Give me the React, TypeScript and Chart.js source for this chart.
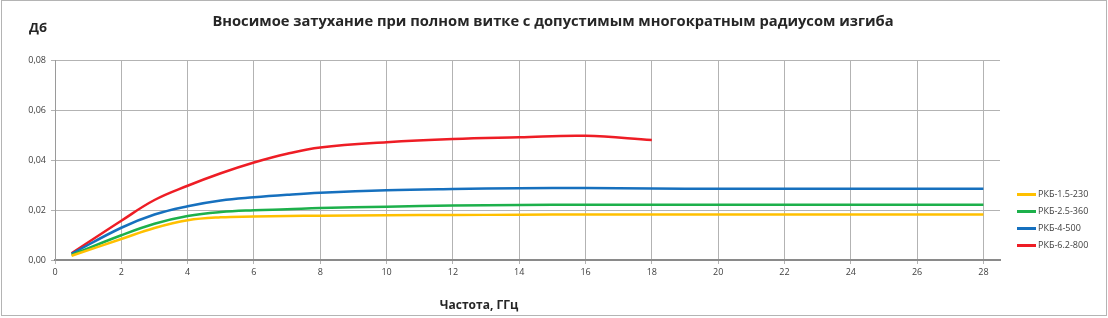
import React, { useEffect, useRef } from "react";
import { Chart, registerables } from "chart.js";

Chart.register(...registerables);

const FREQ = [0.5, 2, 3, 4, 5, 6, 7, 8, 10, 12, 14, 16, 18, 20, 22, 24, 26, 28];
const FREQ_RED = [0.5, 2, 3, 4, 5, 6, 7, 8, 10, 12, 14, 16, 18];

const SERIES_NAMES = ["РКБ-1.5-230", "РКБ-2.5-360", "РКБ-4-500", "РКБ-6.2-800"];
const SERIES_COLORS = ["#FFC000", "#1DB04B", "#1670BE", "#EE1D25"];

const RKB_15_230 = [0.0017, 0.0084, 0.0128, 0.0159, 0.0171, 0.0174, 0.0176, 0.0177, 0.0179, 0.018, 0.0181, 0.0182, 0.0182, 0.0182, 0.0182, 0.0182, 0.0182, 0.0182];
const RKB_25_360 = [0.002, 0.0099, 0.0145, 0.0176, 0.0192, 0.0199, 0.0203, 0.0208, 0.0213, 0.0218, 0.022, 0.0221, 0.0221, 0.0221, 0.0221, 0.0221, 0.0221, 0.0221];
const RKB_4_500 = [0.0025, 0.0129, 0.0182, 0.0215, 0.0238, 0.0251, 0.0261, 0.0269, 0.0279, 0.0284, 0.0287, 0.0288, 0.0286, 0.0285, 0.0285, 0.0285, 0.0285, 0.0285];
const RKB_62_800 = [0.0027, 0.0157, 0.0240, 0.0297, 0.0347, 0.039, 0.0425, 0.0450, 0.0471, 0.0484, 0.0491, 0.0497, 0.048];

const X_TICKS = [0, 2, 4, 6, 8, 10, 12, 14, 16, 18, 20, 22, 24, 26, 28];
const Y_TICKS = [0, 0.02, 0.04, 0.06, 0.08];

const TITLE = "Вносимое затухание при полном витке с допустимым многократным радиусом изгиба";
const Y_TITLE = "Дб";
const X_TITLE = "Частота, ГГц";

const FONT = "'Open Sans', 'Noto Sans', sans-serif";

const toPoints = (xs: number[], ys: number[]) => ys.map((y, i) => ({ x: xs[i], y }));

const extrasPlugin = {
  id: "extras",
  afterDraw(chart: any) {
    const ctx = chart.ctx;
    ctx.save();
    // outer border
    ctx.strokeStyle = "#b4b4b4";
    ctx.lineWidth = 1;
    ctx.strokeRect(1.5, 0.5, 1105, 315);
    // title
    ctx.fillStyle = "#262626";
    ctx.font = `bold 14.7px ${FONT}`;
    ctx.textAlign = "center";
    ctx.textBaseline = "middle";
    ctx.fillText(TITLE, 553, 22);
    // y title
    ctx.font = `bold 13px ${FONT}`;
    ctx.textAlign = "left";
    ctx.fillText(Y_TITLE, 29, 28);
    // x title
    ctx.font = `bold 12px ${FONT}`;
    ctx.textAlign = "center";
    ctx.fillText(X_TITLE, 479, 306);
    // legend
    ctx.font = `9px ${FONT}`;
    ctx.textAlign = "left";
    const ys = [194.5, 211.5, 228.5, 245.5];
    SERIES_NAMES.forEach((name, i) => {
      ctx.strokeStyle = SERIES_COLORS[i];
      ctx.lineWidth = 3;
      ctx.beginPath();
      ctx.moveTo(1017, ys[i]);
      ctx.lineTo(1036, ys[i]);
      ctx.stroke();
      ctx.fillStyle = "#404040";
      ctx.fillText(name, 1038, ys[i]);
    });
    ctx.restore();
  },
};

export default function App() {
  const ref = useRef<HTMLCanvasElement | null>(null);
  useEffect(() => {
    if (!ref.current) return;
    const datasets = [
      { label: SERIES_NAMES[0], data: toPoints(FREQ, RKB_15_230) },
      { label: SERIES_NAMES[1], data: toPoints(FREQ, RKB_25_360) },
      { label: SERIES_NAMES[2], data: toPoints(FREQ, RKB_4_500) },
      { label: SERIES_NAMES[3], data: toPoints(FREQ_RED, RKB_62_800) },
    ].map((d, i) => ({
      ...d,
      borderColor: SERIES_COLORS[i],
      backgroundColor: SERIES_COLORS[i],
      borderWidth: 2.5,
      pointRadius: 0,
      tension: 0.4,
      fill: false,
    }));
    const chart = new Chart(ref.current, {
      type: "line",
      data: { datasets },
      plugins: [extrasPlugin],
      options: {
        animation: false,
        responsive: false,
        devicePixelRatio: 1,
        layout: { padding: { left: 0, right: 108, top: 60, bottom: 0 } },
        plugins: {
          legend: { display: false },
          tooltip: { enabled: false },
          title: { display: false },
        },
        scales: {
          x: {
            type: "linear",
            min: 0,
            max: 28.5,
            afterBuildTicks: (scale: any) => {
              scale.ticks = X_TICKS.map((v) => ({ value: v }));
            },
            afterFit: (scale: any) => {
              scale.height = 58;
            },
            grid: { color: "#b3b3b3", lineWidth: 1, tickLength: 4, drawTicks: true },
            border: { color: "#8a8a8a", width: 2 },
            ticks: {
              color: "#404040",
              font: { family: FONT, size: 9 },
              padding: 3,
              maxRotation: 0,
              autoSkip: false,
              callback: (v: any) => String(v),
            },
          },
          y: {
            type: "linear",
            min: 0,
            max: 0.08,
            afterBuildTicks: (scale: any) => {
              scale.ticks = Y_TICKS.map((v) => ({ value: v }));
            },
            afterFit: (scale: any) => {
              scale.width = 55;
            },
            grid: { color: "#b3b3b3", lineWidth: 1, tickLength: 4, drawTicks: true },
            border: { color: "#9a9a9a", width: 1 },
            ticks: {
              color: "#404040",
              font: { family: FONT, size: 9 },
              padding: 5,
              callback: (v: any) => Number(v).toFixed(2).replace(".", ","),
            },
          },
        },
      },
    } as any);
    return () => chart.destroy();
  }, []);
  return (
    <div style={{ position: "absolute", left: 0, top: 0, width: 1108, height: 318, background: "#fff" }}>
      <canvas ref={ref} width={1108} height={318} style={{ display: "block" }} />
    </div>
  );
}
